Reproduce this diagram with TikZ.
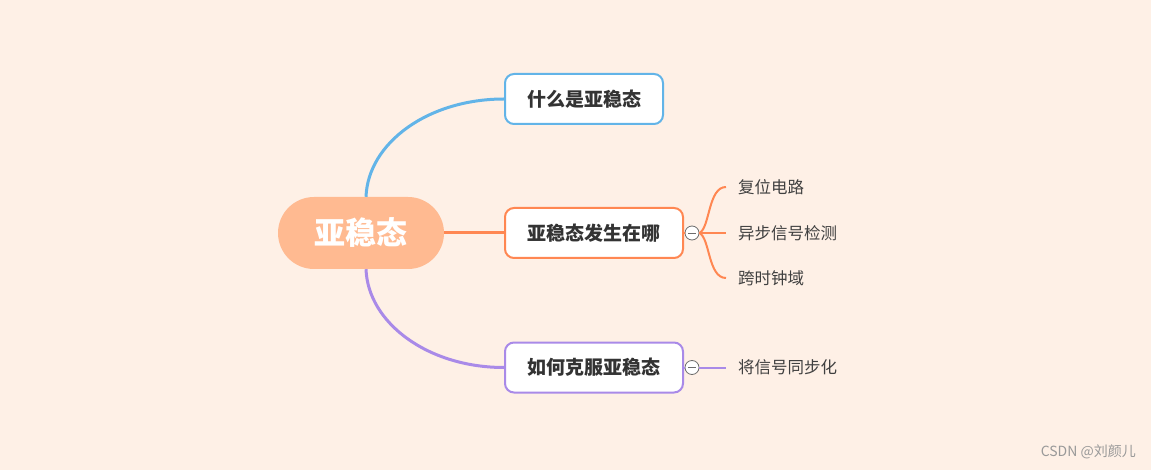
\documentclass[tikz,border=0pt]{standalone}
\usepackage{fontspec}
\newfontfamily\cjk{Noto Sans CJK SC}
\definecolor{bg}{HTML}{FEF0E6}
\definecolor{cfill}{HTML}{FFBA91}
\definecolor{cblue}{HTML}{62B4E8}
\definecolor{corange}{HTML}{FF8752}
\definecolor{cpurple}{HTML}{A98AE8}
\definecolor{ctext}{HTML}{333333}
\definecolor{cleaf}{HTML}{404040}
\tikzset{
  topicbox/.style={draw, line width=2pt, fill=white, rounded corners=9pt, minimum height=50pt, inner xsep=8pt, font=\cjk\bfseries\fontsize{19}{21}\selectfont, text=ctext},
  leafnode/.style={anchor=west, inner xsep=12pt, inner ysep=2pt, font=\cjk\fontsize{16.5}{18}\selectfont, text=cleaf},
  foldbox/.style={circle, draw=gray!85!black, fill=white, line width=0.8pt, minimum size=14pt, inner sep=0pt},
  mainline/.style={line width=3pt},
  subline/.style={line width=2pt}
}
\begin{document}
\begin{tikzpicture}[x=1pt,y=-1pt]
\useasboundingbox (0,0) rectangle (1151,470);
\fill[bg] (0,0) rectangle (1151,470);

% central node
\node[fill=cfill, rounded corners=36pt, minimum width=166pt, minimum height=72pt, text=white, font=\cjk\bfseries\fontsize{31}{34}\selectfont] (c) at (361,233) {亚稳态};

% topics
\node[topicbox, draw=cblue, minimum width=158pt] (t1) at (584,99) {什么是亚稳态};
\node[topicbox, draw=corange, minimum width=178pt] (t2) at (594,233) {亚稳态发生在哪};
\node[topicbox, draw=cpurple, minimum width=178pt] (t3) at (594,367.5) {如何克服亚稳态};

% main connectors
\draw[mainline, cblue] ([xshift=5pt]c.north) .. controls (368,143) and (428,99) .. (t1.west);
\draw[mainline, corange] (c.east) -- (t2.west);
\draw[mainline, cpurple] ([xshift=5pt]c.south) .. controls (368,323) and (428,367.5) .. (t3.west);

% fold markers
\node[foldbox] (k2) at (692,233) {};
\node[foldbox] (k3) at (692,367.5) {};
\draw[gray!85!black, line width=0.8pt] ([xshift=-4pt]k2.center) -- ([xshift=4pt]k2.center);
\draw[gray!85!black, line width=0.8pt] ([xshift=-4pt]k3.center) -- ([xshift=4pt]k3.center);

% leaves
\node[leafnode] (l1) at (726,187) {复位电路};
\node[leafnode] (l2) at (726,233) {异步信号检测};
\node[leafnode] (l3) at (726,278) {跨时钟域};
\node[leafnode] (l4) at (726,367.5) {将信号同步化};

\draw[subline, corange] (t2.east) -- (k2.west);
\draw[subline, corange] (k2.east) .. controls (710,228) and (708,187) .. (l1.west);
\draw[subline, corange] (k2.east) -- (l2.west);
\draw[subline, corange] (k2.east) .. controls (710,238) and (708,278) .. (l3.west);
\draw[subline, cpurple] (t3.east) -- (k3.west);
\draw[subline, cpurple] (k3.east) -- (l4.west);

% watermark
\node[anchor=east, text=gray!80, inner sep=0pt, font=\cjk\fontsize{14}{16}\selectfont] (wm) at (1136,452) {CSDN @刘颜儿};
\end{tikzpicture}
\end{document}
